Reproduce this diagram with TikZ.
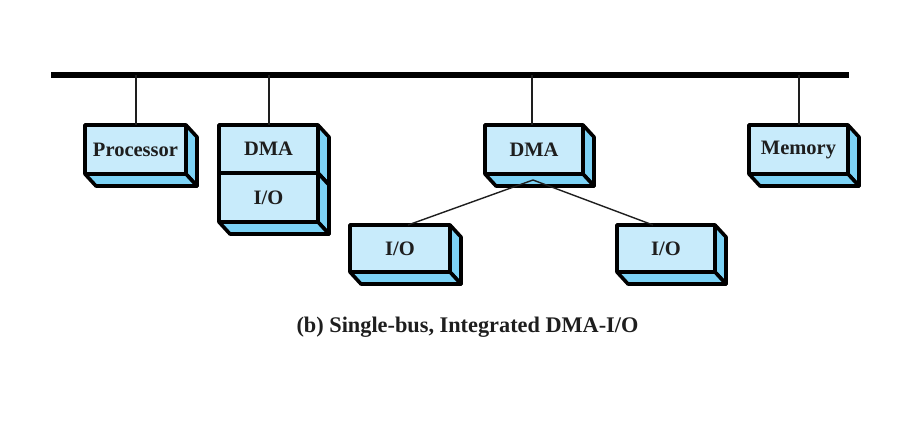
\documentclass[tikz,border=0pt]{standalone}
\usepackage{fontspec}
\setmainfont{Liberation Serif}
\usetikzlibrary{calc}
\definecolor{frontblue}{RGB}{200,235,251}
\definecolor{sideblue}{RGB}{124,210,245}
\definecolor{ink}{RGB}{30,30,30}
\tikzset{
  face/.style={draw=black, fill=frontblue, line width=3.6pt, inner sep=0pt, outer sep=0pt,
    line join=round, font=\fontsize{20.5}{23}\selectfont\bfseries, text=ink},
  sideface/.style={draw=black, fill=sideblue, line width=3.6pt, line join=round},
  bus/.style={line width=6.5pt, black},
  stub/.style={line width=2pt, ink},
  link/.style={line width=1.4pt, ink},
}
\newcommand\cubefaces[1]{%
  \draw[sideface] (#1.north east) -- ++(11,12) -- ($(#1.south east)+(11,12)$) -- (#1.south east) -- cycle;
  \draw[sideface] (#1.south west) -- (#1.south east) -- ++(11,12) -- ($(#1.south west)+(11,12)$) -- cycle;}
\begin{document}
\begin{tikzpicture}[x=1pt,y=-1pt]
\useasboundingbox (0,0) rectangle (923,424);
% bus
\coordinate (busL) at (51,75);
\coordinate (busR) at (849,75);
\draw[bus] (busL) -- (busR);
% processor
\node[face, minimum width=101pt, minimum height=49pt] (proc) at (135.5,149.5) {Processor};
\cubefaces{proc}
% DMA / IO stack
\node[face, minimum width=99pt, minimum height=48pt] (dmaA) at (268.5,149) {DMA};
\cubefaces{dmaA}
\node[face, minimum width=99pt, minimum height=49pt] (ioA) at (268.5,197.5) {I/O};
\cubefaces{ioA}
% middle DMA
\node[face, minimum width=98pt, minimum height=49pt] (dmaB) at (534,149.5) {DMA};
\cubefaces{dmaB}
% IO left / right
\node[face, minimum width=100pt, minimum height=47pt] (ioL) at (400,248.5) {I/O};
\cubefaces{ioL}
\node[face, minimum width=98pt, minimum height=47pt] (ioR) at (666,248.5) {I/O};
\cubefaces{ioR}
% memory
\node[face, minimum width=99pt, minimum height=49pt] (mem) at (798.5,149.5) {Memory};
\cubefaces{mem}
% stubs
\draw[stub] (proc.north |- busL) -- (proc.north);
\draw[stub] (dmaA.north |- busL) -- (dmaA.north);
\draw[stub] ($(dmaB.north |- busL)+(-2,0)$) -- ($(dmaB.north)+(-2,0)$);
\draw[stub] (mem.north |- busL) -- (mem.north);
% links
\coordinate (apex) at ($(dmaB.south)+(-1,6)$);
\draw[link] (apex) -- ($(ioL.north)+(8,0)$);
\draw[link] (apex) -- ($(ioR.north)+(-13,0)$);
% caption
\node[font=\fontsize{22.3}{25}\selectfont\bfseries, text=ink] (cap) at (467.5,327) {(b) Single-bus, Integrated DMA-I/O};
\end{tikzpicture}
\end{document}
